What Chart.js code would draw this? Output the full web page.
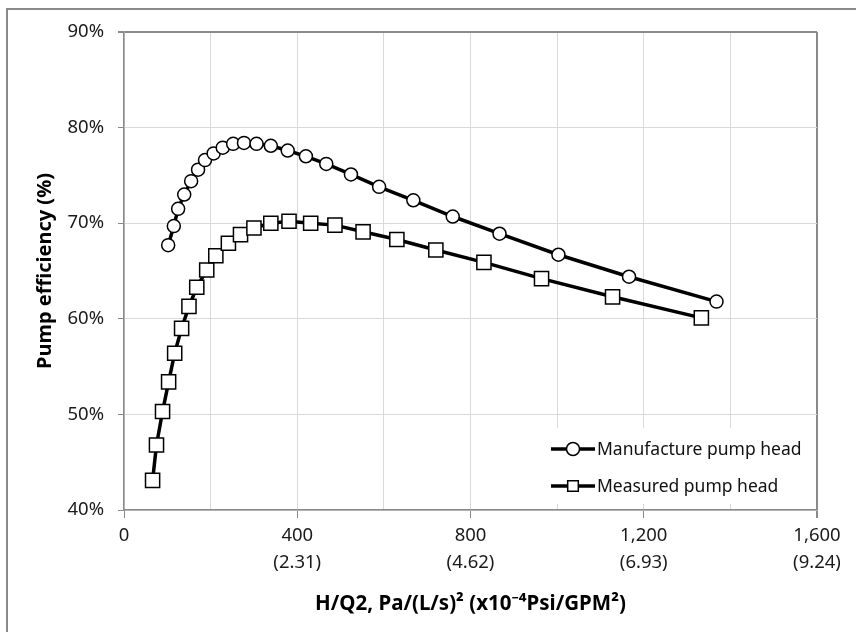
<!DOCTYPE html>
<html>
<head>
<meta charset="utf-8">
<script src="https://cdn.jsdelivr.net/npm/chart.js@4.4.1/dist/chart.umd.min.js"></script>
<style>
  body { margin: 0; background: #fff; }
  #wrap { width: 856px; height: 632px; }
</style>
</head>
<body>
<div id="wrap"><canvas id="pump-chart" width="856" height="632"></canvas></div>
<script>
// manufacture pump head (circles)
let manufX = [102, 115, 125, 139, 155, 171, 187, 207, 228, 252, 277, 306, 339, 378, 420, 467, 524, 589, 668, 759, 867, 1003, 1166, 1368];
let manufY = [67.7, 69.7, 71.5, 73.0, 74.4, 75.6, 76.6, 77.3, 77.9, 78.3, 78.4, 78.3, 78.1, 77.6, 77.0, 76.2, 75.1, 73.8, 72.4, 70.7, 68.9, 66.7, 64.4, 61.8];

// measured pump head (squares)
let measX = [66, 75, 89, 103, 117, 133, 150, 168, 191, 212, 241, 269, 300, 339, 381, 431, 487, 552, 630, 720, 831, 964, 1128, 1333];
let measY = [43.1, 46.8, 50.3, 53.4, 56.4, 59.0, 61.3, 63.3, 65.1, 66.6, 67.9, 68.8, 69.5, 70.0, 70.2, 70.0, 69.8, 69.1, 68.3, 67.2, 65.9, 64.2, 62.3, 60.1];

// x tick labels: Pa/(L/s)^2 and (x10^-4 Psi/GPM^2)
let xTickValues = [0, 400, 800, 1200, 1600];
let xTickPsi = ['', '(2.31)', '(4.62)', '(6.93)', '(9.24)'];

let seriesNames = ['Manufacture pump head', 'Measured pump head'];

let fontFamily = '"Noto Sans", "DejaVu Sans", sans-serif';

function toPoints(xs, ys) {
  return xs.map((x, i) => ({ x: x, y: ys[i] }));
}

// outer frame, like the exported chart box
let frame = {
  id: 'frame',
  beforeDraw(chart) {
    let c = chart.ctx;
    c.save();
    c.fillStyle = '#fff';
    c.fillRect(0, 0, chart.width, chart.height);
    c.fillStyle = '#8a8a8a';
    c.fillRect(6, 8, 2, chart.height);
    c.fillRect(6, 8, chart.width, 2);
    c.restore();
  }
};

// legend drawn in the lower right of the plot
let insideLegend = {
  id: 'insideLegend',
  afterDraw(chart) {
    let c = chart.ctx;
    let area = chart.chartArea;
    let boxLeft = 540, boxTop = 428;
    c.save();
    c.fillStyle = '#fff';
    c.fillRect(boxLeft, boxTop, area.right - boxLeft - 1, area.bottom - boxTop - 6);
    let rows = [449, 486];
    chart.data.datasets.forEach((ds, i) => {
      let y = rows[i];
      c.strokeStyle = '#000';
      c.lineWidth = 3.5;
      c.beginPath();
      c.moveTo(551, y);
      c.lineTo(595, y);
      c.stroke();
      c.fillStyle = '#fff';
      c.lineWidth = 1.5;
      Chart.helpers.drawPoint(c, {
        pointStyle: ds.pointStyle,
        radius: i === 0 ? 6.5 : 7.5,
        borderWidth: 1.5
      }, 573, y);
      c.fillStyle = '#111';
      c.font = '17.5px ' + fontFamily;
      c.textAlign = 'left';
      c.textBaseline = 'middle';
      c.fillText(ds.label, 597, y + 1);
    });
    c.restore();
  }
};

let ctx = document.getElementById('pump-chart').getContext('2d');

new Chart(ctx, {
  type: 'scatter',
  data: {
    datasets: [
      {
        label: seriesNames[0],
        data: toPoints(manufX, manufY),
        showLine: true,
        borderColor: '#000',
        borderWidth: 3.5,
        pointStyle: 'circle',
        pointRadius: 6.5,
        pointBorderWidth: 1.5,
        pointBackgroundColor: '#fff',
        pointBorderColor: '#000'
      },
      {
        label: seriesNames[1],
        data: toPoints(measX, measY),
        showLine: true,
        borderColor: '#000',
        borderWidth: 3.5,
        pointStyle: 'rect',
        pointRadius: 10,
        pointBorderWidth: 1.5,
        pointBackgroundColor: '#fff',
        pointBorderColor: '#000'
      }
    ]
  },
  options: {
    responsive: false,
    animation: false,
    layout: { padding: { left: 10, top: 32, right: 39, bottom: 16 } },
    plugins: {
      legend: { display: false },
      tooltip: { enabled: false }
    },
    scales: {
      x: {
        type: 'linear',
        min: 0,
        max: 1600,
        afterFit: (scale) => { scale.height = 632 - 16 - 510; },
        ticks: {
          stepSize: 200,
          autoSkip: false,
          maxRotation: 0,
          padding: 4,
          color: '#1a1a1a',
          font: { family: fontFamily, size: 18.5, lineHeight: 1.45 },
          callback: (v) => {
            let i = xTickValues.indexOf(v);
            if (i < 0) return '';
            let main = v.toLocaleString('en-US');
            return xTickPsi[i] ? [main, xTickPsi[i]] : main;
          }
        },
        grid: {
          color: (c) => (c.tick && c.tick.value === 1600 ? '#8a8a8a' : '#d9d9d9'),
          lineWidth: (c) => (c.tick && c.tick.value === 1600 ? 2 : 1),
          tickLength: 8,
          tickColor: (c) => (c.tick && c.tick.value % 400 === 0 ? '#8a8a8a' : 'rgba(0,0,0,0)')
        },
        border: { color: '#8a8a8a', width: 1.5 },
        title: {
          display: true,
          text: 'H/Q2, Pa/(L/s)\u00b2 (x10\u207b\u2074Psi/GPM\u00b2)',
          color: '#000',
          font: { family: fontFamily, size: 20.5, weight: 'bold' },
          padding: { top: 4, bottom: 0 }
        }
      },
      y: {
        min: 40,
        max: 90,
        afterFit: (scale) => { scale.width = 124 - 10; },
        ticks: {
          stepSize: 10,
          padding: 14,
          color: '#1a1a1a',
          font: { family: fontFamily, size: 18.5 },
          callback: (v) => v + '%'
        },
        grid: {
          color: (c) => (c.tick && c.tick.value === 90 ? '#8a8a8a' : '#d9d9d9'),
          lineWidth: (c) => (c.tick && c.tick.value === 90 ? 2 : 1),
          tickLength: 6,
          tickColor: '#8a8a8a'
        },
        border: { color: '#8a8a8a', width: 1.5 },
        title: {
          display: true,
          text: 'Pump efficiency (%)',
          color: '#000',
          font: { family: fontFamily, size: 20, weight: 'bold' },
          padding: { top: 23, bottom: 0 }
        }
      }
    }
  },
  plugins: [frame, insideLegend]
});
</script>
</body>
</html>
